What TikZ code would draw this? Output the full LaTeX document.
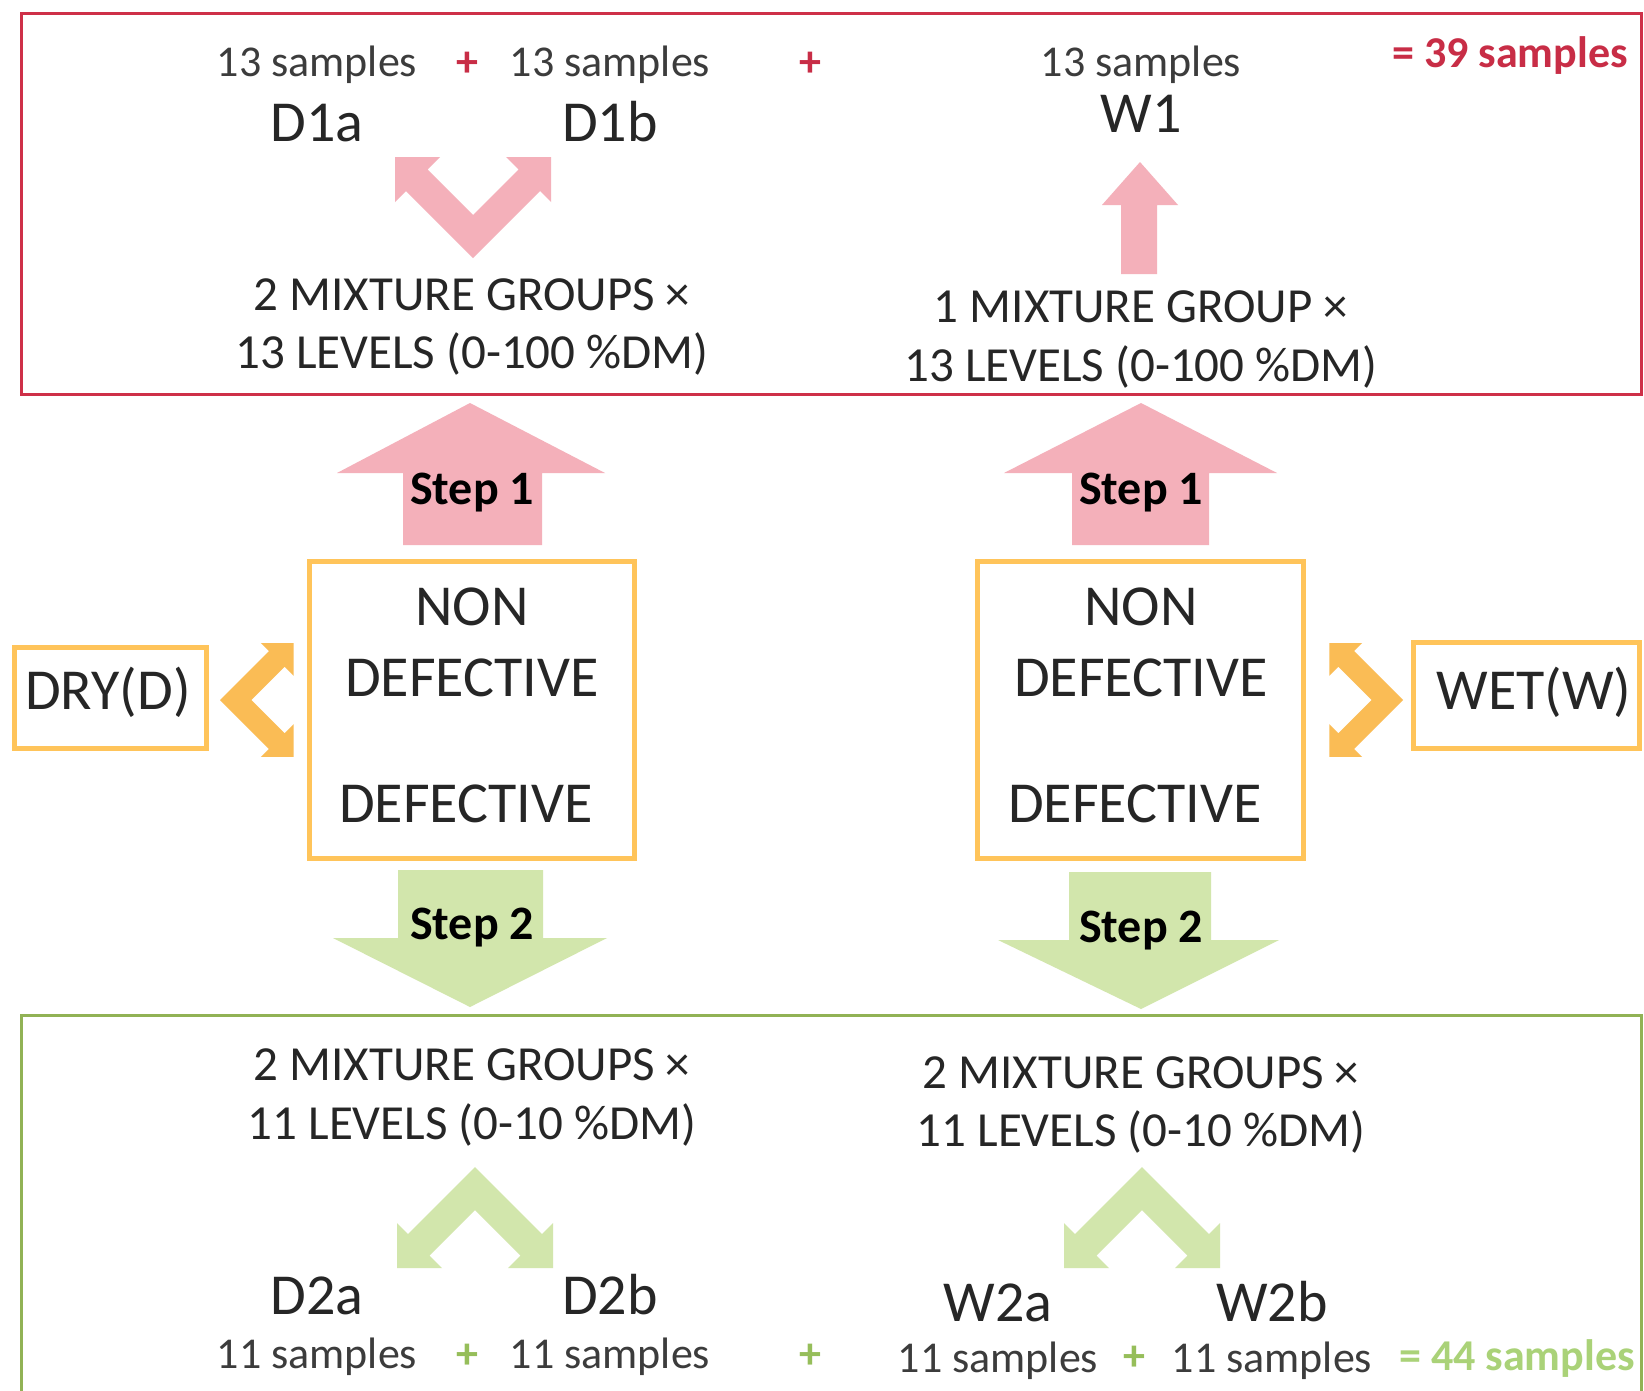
\documentclass[tikz,border=0pt]{standalone}
\usepackage{fontspec}
\setmainfont{Carlito}
\definecolor{redline}{RGB}{206,48,72}
\definecolor{redtxt}{RGB}{200,45,70}
\definecolor{pinkA}{RGB}{244,176,186}
\definecolor{greenA}{RGB}{210,230,172}
\definecolor{greenline}{RGB}{145,178,85}
\definecolor{greentxt}{RGB}{170,210,120}
\definecolor{plusgreen}{RGB}{150,190,90}
\definecolor{orangeA}{RGB}{250,188,85}
\definecolor{orangeline}{RGB}{255,196,90}
\definecolor{txtdark}{RGB}{38,38,38}
\definecolor{txtgray}{RGB}{60,60,60}
\tikzset{
  chev/.pic={\fill[pic actions] (0,0) -- (-67,-67) -- (-78,-56) -- (-78,-101) -- (-33,-101) -- (-45.5,-88.5) -- (0,-43) -- (45.5,-88.5) -- (33,-101) -- (78,-101) -- (78,-56) -- (67,-67) -- cycle;},
  base/.style={inner sep=0pt, text depth=0pt, anchor=center},
  smp/.style={base, text height=30pt, font=\fontsize{44}{50}\selectfont, text=txtgray},
  lbl/.style={base, text height=35pt, font=\fontsize{58}{64}\selectfont, text=txtdark},
  mix/.style={base, text height=29.5pt, font=\fontsize{49}{56}\selectfont, text=txtdark},
  stp/.style={base, text height=29.5pt, font=\bfseries\fontsize{48}{54}\selectfont, text=black},
  redb/.style={base, text height=30pt, font=\bfseries\fontsize{44}{50}\selectfont, text=redtxt},
  grnb/.style={base, text height=30pt, font=\bfseries\fontsize{44}{50}\selectfont, text=greentxt},
  grnplus/.style={base, text height=30pt, font=\bfseries\fontsize{44}{50}\selectfont, text=plusgreen},
  obox/.style={draw=orangeline, line width=5pt},
}
\begin{document}
\begin{tikzpicture}[x=1pt,y=-1pt]
\useasboundingbox (0,0) rectangle (1644,1390);
\fill[white] (0,0) rectangle (1644,1390);
% frames
\draw[redline, line width=3pt] (21,13) rectangle (1641,394);
\draw[greenline, line width=3pt] (21,1015) rectangle (1641,1400);
% top chevrons and arrow
\pic[fill=pinkA] at (473,258) {chev};
\fill[pinkA] (1140,162) -- (1178,205) -- (1157,205) -- (1157,274) -- (1121,274) -- (1121,205) -- (1102,205) -- cycle;
% step 1 arrows
\fill[pinkA] (470,403) -- (605,473) -- (542,473) -- (542,545) -- (403,545) -- (403,473) -- (337,473) -- cycle;
\fill[pinkA] (1141,403) -- (1277,473) -- (1209,473) -- (1209,545) -- (1072,545) -- (1072,473) -- (1004,473) -- cycle;
% step 2 arrows
\fill[greenA] (398,870) -- (543,870) -- (543,938) -- (607,938) -- (470,1007) -- (333,938) -- (398,938) -- cycle;
\fill[greenA] (1069,872) -- (1211,872) -- (1211,940) -- (1279,940) -- (1141,1009) -- (998,940) -- (1069,940) -- cycle;
% bottom chevrons
\pic[fill=greenA, yscale=-1] at (475,1167) {chev};
\pic[fill=greenA, yscale=-1] at (1142,1167) {chev};
% side chevrons
\pic[fill=orangeA, rotate=-90, scale=0.73] at (220,700) {chev};
\pic[fill=orangeA, rotate=90, scale=0.73] at (1403,700) {chev};
% boxes
\draw[obox] (309,561) rectangle (634,858);
\draw[obox] (977,561) rectangle (1303,858);
\draw[obox] (14,647) rectangle (206,748);
\draw[obox] (1413,642) rectangle (1639,748);
% top texts
\node[smp] (s1) at (317,61) {13 samples};
\node[redb] (p1) at (467,61) {+};
\node[smp] (s2) at (610,61) {13 samples};
\node[redb] (p2) at (810,61) {+};
\node[smp] (s3) at (1141,61) {13 samples};
\node[redb] (tot1) at (1510,52) {= 39 samples};
\node[lbl] (d1a) at (317,124) {D1a};
\node[lbl] (d1b) at (610,124) {D1b};
\node[lbl] (w1) at (1141,115) {W1};
\node[mix] (m1) at (472,296) {2 MIXTURE GROUPS ×};
\node[mix] (m2) at (472,354) {13 LEVELS (0-100 \%DM)};
\node[mix] (m3) at (1141,308) {1 MIXTURE GROUP ×};
\node[mix] (m4) at (1141,367) {13 LEVELS (0-100 \%DM)};
% steps
\node[stp] (st1a) at (472,490) {Step 1};
\node[stp] (st1b) at (1141,490) {Step 1};
\node[stp] (st2a) at (472,925) {Step 2};
\node[stp] (st2b) at (1141,928) {Step 2};
% middle boxes
\node[lbl] (n1) at (472,608) {NON};
\node[lbl] (nd1) at (472,679) {DEFECTIVE};
\node[lbl] (df1) at (466,805) {DEFECTIVE};
\node[lbl] (n2) at (1141,608) {NON};
\node[lbl] (nd2) at (1141,679) {DEFECTIVE};
\node[lbl] (df2) at (1135,805) {DEFECTIVE};
\node[lbl] (dry) at (108,692) {DRY(D)};
\node[lbl] (wet) at (1534,692) {WET(W)};
% bottom texts
\node[mix] (b1) at (472,1066) {2 MIXTURE GROUPS ×};
\node[mix] (b2) at (472,1125) {11 LEVELS (0-10 \%DM)};
\node[mix] (b3) at (1141,1074) {2 MIXTURE GROUPS ×};
\node[mix] (b4) at (1141,1132) {11 LEVELS (0-10 \%DM)};
\node[lbl] (d2a) at (317,1297) {D2a};
\node[lbl] (d2b) at (610,1297) {D2b};
\node[lbl] (w2a) at (998,1304) {W2a};
\node[lbl] (w2b) at (1272,1304) {W2b};
\node[smp] (t1) at (317,1353) {11 samples};
\node[grnplus] (q1) at (467,1353) {+};
\node[smp] (t2) at (610,1353) {11 samples};
\node[grnplus] (q2) at (810,1353) {+};
\node[smp] (t3) at (998,1357) {11 samples};
\node[grnplus] (q3) at (1134,1355) {+};
\node[smp] (t4) at (1272,1357) {11 samples};
\node[grnb] (tot2) at (1517,1355) {= 44 samples};
\end{tikzpicture}
\end{document}
